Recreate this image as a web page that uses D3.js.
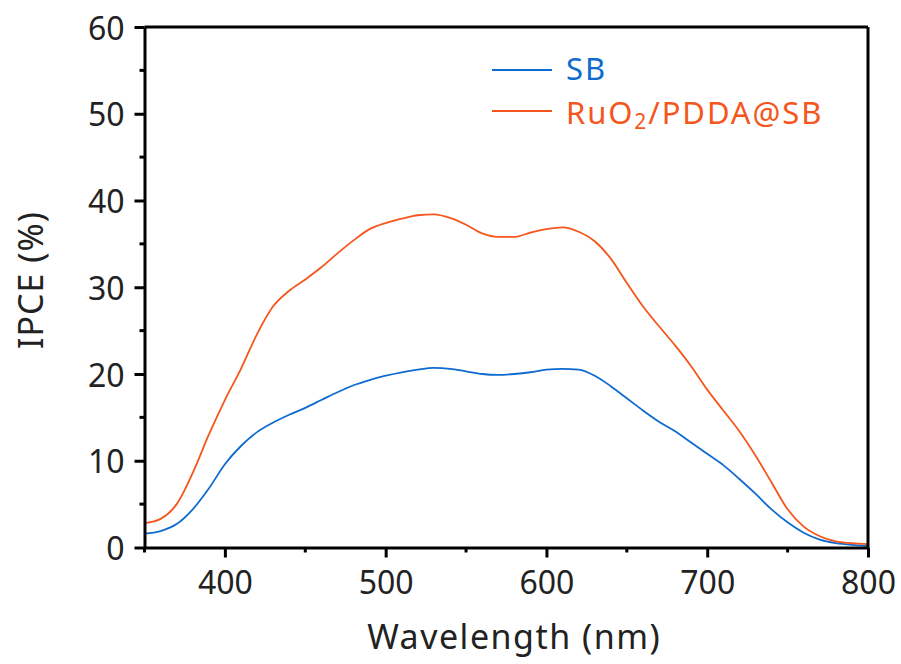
<!DOCTYPE html>
<html>
<head>
<meta charset="utf-8">
<script src="https://cdn.jsdelivr.net/npm/d3@7"></script>
<style>
  body { margin: 0; background: #fff; }
  text { font-family: "Noto Sans", sans-serif; }
</style>
</head>
<body>
<script>
// wavelength grid (nm) and IPCE values (%)
const wavelength = [350, 360, 370, 380, 390, 400, 410, 420, 430, 440, 450, 460, 470, 480, 490,
  500, 510, 520, 530, 540, 550, 560, 570, 580, 590, 600, 610, 620, 630, 640, 650, 660, 670,
  680, 690, 700, 710, 720, 730, 740, 750, 760, 770, 780, 790, 800];
const sb = [1.6, 1.9, 2.7, 4.4, 6.8, 9.6, 11.7, 13.3, 14.4, 15.3, 16.1, 17.0, 17.9, 18.7, 19.3,
  19.8, 20.2, 20.5, 20.7, 20.6, 20.3, 20.0, 19.9, 20.0, 20.2, 20.5, 20.6, 20.5, 19.8, 18.6,
  17.2, 15.8, 14.5, 13.4, 12.1, 10.8, 9.5, 7.9, 6.2, 4.4, 2.9, 1.7, 0.9, 0.5, 0.3, 0.2];
const ruo2 = [2.8, 3.3, 5.0, 8.6, 13.0, 17.0, 20.6, 24.6, 27.8, 29.6, 30.9, 32.3, 33.9, 35.4, 36.7,
  37.4, 37.9, 38.3, 38.4, 38.0, 37.2, 36.2, 35.8, 35.8, 36.3, 36.7, 36.9, 36.4, 35.3, 33.3,
  30.5, 27.8, 25.5, 23.3, 20.9, 18.2, 15.8, 13.4, 10.6, 7.5, 4.4, 2.4, 1.3, 0.7, 0.5, 0.4];
const seriesNames = ["SB", "RuO2/PDDA@SB"];
const colors = ["#0f6bd0", "#f4561c"];
const xTicks = [400, 500, 600, 700, 800];
const yTicks = [0, 10, 20, 30, 40, 50, 60];

const width = 901, height = 664;
const plotL = 144.5, plotR = 868, plotT = 27, plotB = 547.5;

const svg = d3.select("body").append("svg")
  .attr("width", width).attr("height", height);

const x = d3.scaleLinear().domain([350, 800]).range([plotL, plotR]);
const y = d3.scaleLinear().domain([0, 60]).range([plotB, plotT]);

// curves
const line = d3.line().x(d => x(d[0])).y(d => y(d[1])).curve(d3.curveMonotoneX);
[sb, ruo2].forEach((vals, i) => {
  svg.append("path")
    .datum(wavelength.map((w, j) => [w, vals[j]]))
    .attr("fill", "none")
    .attr("stroke", colors[i])
    .attr("stroke-width", 1.8)
    .attr("d", line);
});

// frame top and right
svg.append("line").attr("x1", plotL).attr("x2", plotR).attr("y1", plotT).attr("y2", plotT)
  .attr("stroke", "#000").attr("stroke-width", 3);
svg.append("line").attr("x1", plotR).attr("x2", plotR).attr("y1", plotT).attr("y2", plotB)
  .attr("stroke", "#000").attr("stroke-width", 3);

// minor ticks
svg.append("g").selectAll("line").data(d3.range(5, 60, 10)).join("line")
  .attr("x1", plotL - 5).attr("x2", plotL).attr("y1", d => y(d)).attr("y2", d => y(d))
  .attr("stroke", "#000").attr("stroke-width", 3);
svg.append("g").selectAll("line").data(d3.range(350, 800, 100)).join("line")
  .attr("y1", plotB).attr("y2", plotB + 5).attr("x1", d => x(d)).attr("x2", d => x(d))
  .attr("stroke", "#000").attr("stroke-width", 3);

// axes
const xAxis = svg.append("g").attr("transform", `translate(0,${plotB})`)
  .call(d3.axisBottom(x).tickValues(xTicks).tickSize(10).tickPadding(14).tickSizeOuter(0));
const yAxis = svg.append("g").attr("transform", `translate(${plotL},0)`)
  .call(d3.axisLeft(y).tickValues(yTicks).tickSize(10).tickPadding(10).tickSizeOuter(0));
[xAxis, yAxis].forEach(a => {
  a.select(".domain").attr("stroke-width", 3);
  a.selectAll(".tick line").attr("stroke-width", 3);
  a.selectAll(".tick text").attr("font-size", 32).attr("fill", "#222")
    .attr("font-family", "'Noto Sans', sans-serif");
});
yAxis.selectAll(".tick text").attr("dy", "0.38em");

// axis titles
svg.append("text").attr("x", (plotL + plotR) / 2 + 8).attr("y", 649)
  .attr("text-anchor", "middle").attr("font-size", 34).attr("letter-spacing", 1.5)
  .attr("fill", "#222")
  .text("Wavelength (nm)");
svg.append("text").attr("transform", `translate(43,280) rotate(-90)`)
  .attr("text-anchor", "middle").attr("font-size", 34).attr("letter-spacing", 1)
  .attr("fill", "#222")
  .text("IPCE (%)");

// legend
const legY = [70, 111];
seriesNames.forEach((name, i) => {
  svg.append("line").attr("x1", 492).attr("x2", 552).attr("y1", legY[i]).attr("y2", legY[i])
    .attr("stroke", colors[i]).attr("stroke-width", 1.8);
  const t = svg.append("text").attr("x", 566).attr("y", legY[i] + 10 + (i ? 3 : 0))
    .attr("font-size", 31).attr("letter-spacing", 1.9).attr("fill", colors[i]);
  if (name === "RuO2/PDDA@SB") {
    t.append("tspan").text("RuO");
    t.append("tspan").text("2").attr("font-size", 21).attr("dy", 5);
    t.append("tspan").text("/PDDA@SB").attr("dy", -5);
  } else {
    t.text(name);
  }
});
</script>
</body>
</html>
